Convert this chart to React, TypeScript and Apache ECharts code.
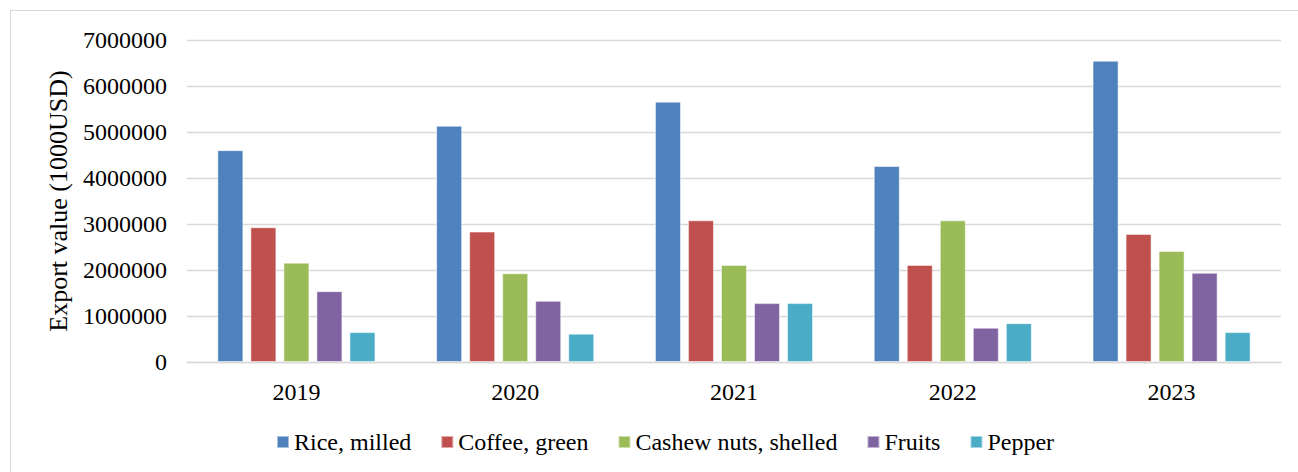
import React, { useEffect, useRef } from "react";
import * as echarts from "echarts";

const years = ["2019", "2020", "2021", "2022", "2023"];
const seriesNames = ["Rice, milled", "Coffee, green", "Cashew nuts, shelled", "Fruits", "Pepper"];
const rice = [4605000, 5135000, 5660000, 4260000, 6550000];
const coffee = [2930000, 2835000, 3080000, 2110000, 2785000];
const cashew = [2160000, 1930000, 2110000, 3080000, 2415000];
const fruits = [1540000, 1330000, 1280000, 745000, 1940000];
const pepper = [650000, 615000, 1280000, 845000, 650000];
const colors = ["#4F81BD", "#C0504D", "#9BBB59", "#8064A2", "#4BACC6"];

export default function App() {
  const ref = useRef<HTMLDivElement>(null);
  useEffect(() => {
    if (!ref.current) return;
    const chart = echarts.init(ref.current, null, { renderer: "svg" });
    const font = "Liberation Serif";
    const data = [rice, coffee, cashew, fruits, pepper];
    chart.setOption({
      animation: false,
      backgroundColor: "#ffffff",
      textStyle: { fontFamily: font, color: "#000" },
      graphic: [
        {
          type: "rect",
          shape: { x: 10.5, y: 10.5, width: 1400, height: 600 },
          style: { fill: "none", stroke: "#d9d9d9", lineWidth: 1 },
          silent: true,
        },
      ],
      grid: { left: 187, right: 17, top: 40, bottom: 110 },
      legend: {
        top: 430,
        left: 276,
        padding: 0,
        itemWidth: 12,
        itemHeight: 12,
        itemGap: 29,
        icon: "rect",
        textStyle: { fontFamily: font, fontSize: 24, color: "#000" },
        data: seriesNames,
      },
      xAxis: {
        type: "category",
        data: years,
        axisLine: { show: true, lineStyle: { color: "#d9d9d9", width: 1.3 } },
        axisTick: { show: false },
        axisLabel: { fontFamily: font, fontSize: 24, color: "#000", margin: 18 },
      },
      yAxis: {
        type: "value",
        min: 0,
        max: 7000000,
        interval: 1000000,
        name: "Export value (1000USD)",
        nameLocation: "middle",
        nameGap: 116,
        nameTextStyle: { fontFamily: font, fontSize: 26, color: "#000" },
        axisLine: { show: false },
        axisTick: { show: false },
        axisLabel: {
          fontFamily: font,
          fontSize: 24,
          color: "#000",
          margin: 20,
          formatter: (v: number) => String(v),
        },
        splitLine: { lineStyle: { color: "#d9d9d9", width: 1.3 } },
      },
      series: seriesNames.map((name, i) => ({
        name,
        type: "bar",
        data: data[i],
        barWidth: 26,
        barGap: "27%",
        barCategoryGap: "27%",
        itemStyle: { color: colors[i], borderColor: "rgba(255,255,255,0.5)", borderWidth: 1 },
      })),
    });
    return () => chart.dispose();
  }, []);
  return (
    <div
      ref={ref}
      style={{ position: "fixed", left: 0, top: 0, width: 1298, height: 472 }}
    />
  );
}
